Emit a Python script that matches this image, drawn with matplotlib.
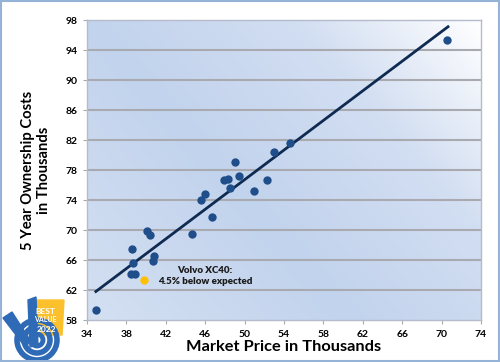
import numpy as np
import matplotlib.pyplot as plt
from matplotlib.colors import LinearSegmentedColormap
from matplotlib.patches import Circle, Polygon, Rectangle

# market price (thousands) vs 5 year ownership cost (thousands)
price = [34.9, 38.6, 38.7, 38.5, 38.9, 40.1, 40.4, 40.8, 40.75, 44.7,
         46.7, 45.6, 46.0, 47.9, 48.3, 48.5, 49.0, 49.4, 51.0, 52.3,
         52.95, 54.65, 70.5]
cost = [59.3, 67.5, 65.6, 64.1, 64.2, 69.9, 69.4, 66.5, 65.9, 69.5,
        71.8, 74.0, 74.8, 76.7, 76.8, 75.6, 79.1, 77.2, 75.2, 76.7,
        80.4, 81.6, 95.4]
volvo_price = [39.8]
volvo_cost = [63.3]
fit_x = [34.9, 70.65]
fit_y = [61.8, 97.1]
xticks = list(range(34, 75, 4))
yticks = list(range(58, 99, 4))

plt.rcParams['font.family'] = ['Lato', 'DejaVu Sans']

fig = plt.figure(figsize=(5, 3.62), dpi=100)
W, H = 500, 362
ax = fig.add_axes([87/W, 1-320/H, (481-87)/W, (320-20)/H])

# gradient background
n = 200
gx, gy = np.meshgrid(np.linspace(0, 1, n), np.linspace(0, 1, n))
t = np.clip(gx*0.6 + gy*0.4, 0, 1)
cmap = LinearSegmentedColormap.from_list('bg', [(0, '#d4e0f2'), (0.4, '#c2d3ed'),
                                                (0.72, '#d2def2'), (1, '#ffffff')])
ax.imshow(t, extent=[34, 74, 58, 98], origin='lower', cmap=cmap, aspect='auto', zorder=0)

ax.set_xlim(34, 74)
ax.set_ylim(58, 98)
ax.set_xticks(xticks)
ax.set_yticks(yticks)
for y in yticks[1:-1]:
    ax.axhline(y, color='#a8aab0', lw=1.5, zorder=1)

ax.plot(fit_x, fit_y, color='#0f2b52', lw=2, zorder=2)
ax.scatter(price, cost, s=36, color='#1f4e8a', zorder=3, linewidths=0)
ax.scatter(volvo_price, volvo_cost, s=36, color='#ffc000', zorder=3, linewidths=0)

ax.text(46.0, 63.9, 'Volvo XC40:\n4.5% below expected', ha='center', va='center',
        fontsize=7, fontweight='heavy', color='#1a1a1a', linespacing=1.35)

for s in ['top', 'right', 'left', 'bottom']:
    ax.spines[s].set_color('#b4bccb')
    ax.spines[s].set_linewidth(1)
ax.tick_params(axis='both', length=3, color='#a8aab0', labelsize=7.5, pad=4)
for lab in ax.get_xticklabels() + ax.get_yticklabels():
    lab.set_fontweight('bold')

ax.set_xlabel('Market Price in Thousands', fontsize=11.8, fontweight='bold', labelpad=1)
ax.set_ylabel('5 Year Ownership Costs\nin Thousands', fontsize=10.6, fontweight='bold',
              labelpad=10, linespacing=1.2)

# outer frame
fig.patches.append(Rectangle((0.002, 0.003), 0.996, 0.994, transform=fig.transFigure,
                             fill=False, edgecolor='#95b3d7', lw=1.5))

# badge in lower left corner
lg = fig.add_axes([0, 0, 70/W, 72/H])
lg.set_xlim(0, 70)
lg.set_ylim(362, 290)
lg.axis('off')
lg.add_patch(Polygon([[37, 300], [64, 300], [62, 335], [37, 335]], color='#fcc02d'))
for r, w in [(20, 4), (13, 4), (6, 3.5)]:
    lg.add_patch(Circle((37, 340), r, fill=False, edgecolor='#2e6ab5', lw=w))
lg.add_patch(Polygon([[3, 318], [12, 312], [30, 340], [26, 348]], color='#2e6ab5'))
lg.add_patch(Polygon([[28, 300], [36, 297], [38, 345], [30, 347]], color='#2e6ab5'))
lg.text(45, 312, 'BEST', color='white', fontsize=6, fontweight='bold', ha='center', va='center')
lg.text(45, 320, 'VALUE', color='white', fontsize=5, fontweight='bold', ha='center', va='center')
lg.text(46, 330, '2022', color='white', fontsize=6, fontweight='bold', ha='center', va='center')

fig.savefig('out.png', dpi=100, facecolor='white')
